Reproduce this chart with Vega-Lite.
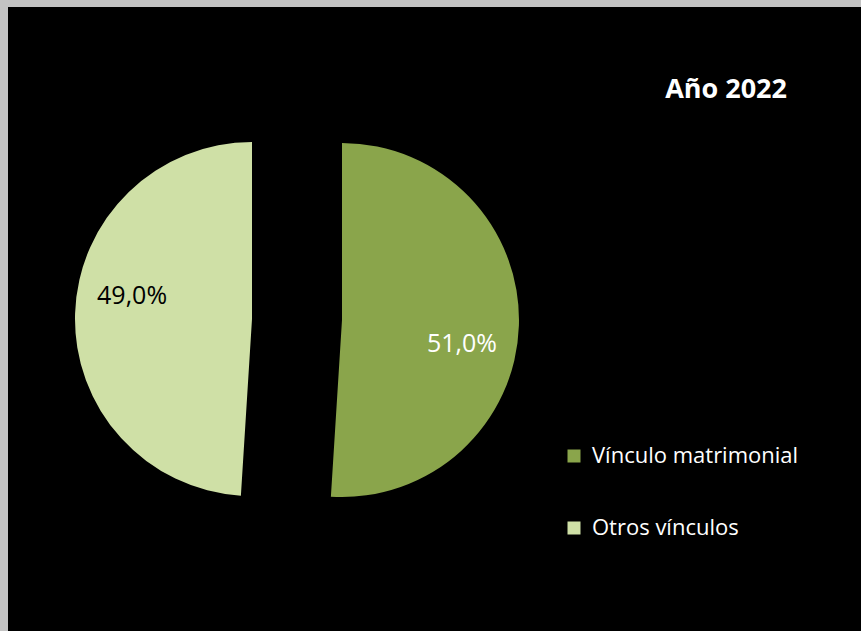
{
  "$schema": "https://vega.github.io/schema/vega-lite/v6.json",
  "width": 861,
  "height": 631,
  "autosize": {"type": "fit", "contains": "padding"},
  "padding": {"left": 8, "top": 7, "right": 0, "bottom": 0},
  "background": "#c3c3c3",
  "view": {"fill": "#000000", "stroke": null},
  "config": {
    "locale": {"number": {"decimal": ",", "thousands": ".", "grouping": [3], "currency": ["", " €"]}}
  },
  "title": {
    "text": "Año 2022",
    "orient": "top",
    "anchor": "end",
    "frame": "group",
    "offset": 0,
    "baseline": "top",
    "dx": -74,
    "dy": 97,
    "font": "Open Sans",
    "fontSize": 27,
    "fontWeight": "bold",
    "color": "#ffffff"
  },
  "data": {
    "values": [
      {"categoria": "Vínculo matrimonial", "valor": 0.51, "orden": 1},
      {"categoria": "Otros vínculos", "valor": 0.49, "orden": 2}
    ]
  },
  "layer": [
    {
      "mark": {"type": "arc", "outerRadius": 177, "xOffset": -92.5, "yOffset": 1},
      "encoding": {
        "theta": {"field": "valor", "type": "quantitative", "stack": true},
        "order": {"field": "orden", "type": "quantitative"},
        "color": {
          "field": "categoria",
          "type": "nominal",
          "scale": {"domain": ["Vínculo matrimonial", "Otros vínculos"], "range": ["#8aa54b", "#cfe0a6"]},
          "legend": {
            "orient": "none", "legendX": 555, "legendY": 438, "title": null,
            "symbolType": "square", "symbolSize": 169, "symbolStrokeWidth": 0,
            "labelFont": "Open Sans", "labelFontSize": 22, "labelColor": "#ffffff",
            "labelOffset": 7, "rowPadding": 50, "labelLimit": 400
          }
        },
        "opacity": {"condition": {"test": "datum.orden == 1", "value": 1}, "value": 0}
      }
    },
    {
      "mark": {"type": "arc", "outerRadius": 177, "xOffset": -182.5, "yOffset": 0},
      "encoding": {
        "theta": {"field": "valor", "type": "quantitative", "stack": true},
        "order": {"field": "orden", "type": "quantitative"},
        "color": {
          "field": "categoria",
          "type": "nominal",
          "scale": {"domain": ["Vínculo matrimonial", "Otros vínculos"], "range": ["#8aa54b", "#cfe0a6"]},
          "legend": {
            "orient": "none", "legendX": 555, "legendY": 438, "title": null,
            "symbolType": "square", "symbolSize": 169, "symbolStrokeWidth": 0,
            "labelFont": "Open Sans", "labelFontSize": 22, "labelColor": "#ffffff",
            "labelOffset": 7, "rowPadding": 50, "labelLimit": 400
          }
        },
        "opacity": {"condition": {"test": "datum.orden == 2", "value": 1}, "value": 0}
      }
    },
    {
      "mark": {"type": "text", "radius": 120, "xOffset": -92.5, "yOffset": 21, "fill": "#ffffff", "font": "Open Sans", "fontSize": 25, "align": "center", "baseline": "middle"},
      "encoding": {
        "theta": {"field": "valor", "type": "quantitative", "stack": true},
        "order": {"field": "orden", "type": "quantitative"},
        "text": {"field": "valor", "type": "quantitative", "format": ".1%"},
        "opacity": {"condition": {"test": "datum.orden == 1", "value": 1}, "value": 0}
      }
    },
    {
      "mark": {"type": "text", "radius": 120, "xOffset": -182.5, "yOffset": -19, "fill": "#000000", "font": "Open Sans", "fontSize": 25, "align": "center", "baseline": "middle"},
      "encoding": {
        "theta": {"field": "valor", "type": "quantitative", "stack": true},
        "order": {"field": "orden", "type": "quantitative"},
        "text": {"field": "valor", "type": "quantitative", "format": ".1%"},
        "opacity": {"condition": {"test": "datum.orden == 2", "value": 1}, "value": 0}
      }
    }
  ]
}
